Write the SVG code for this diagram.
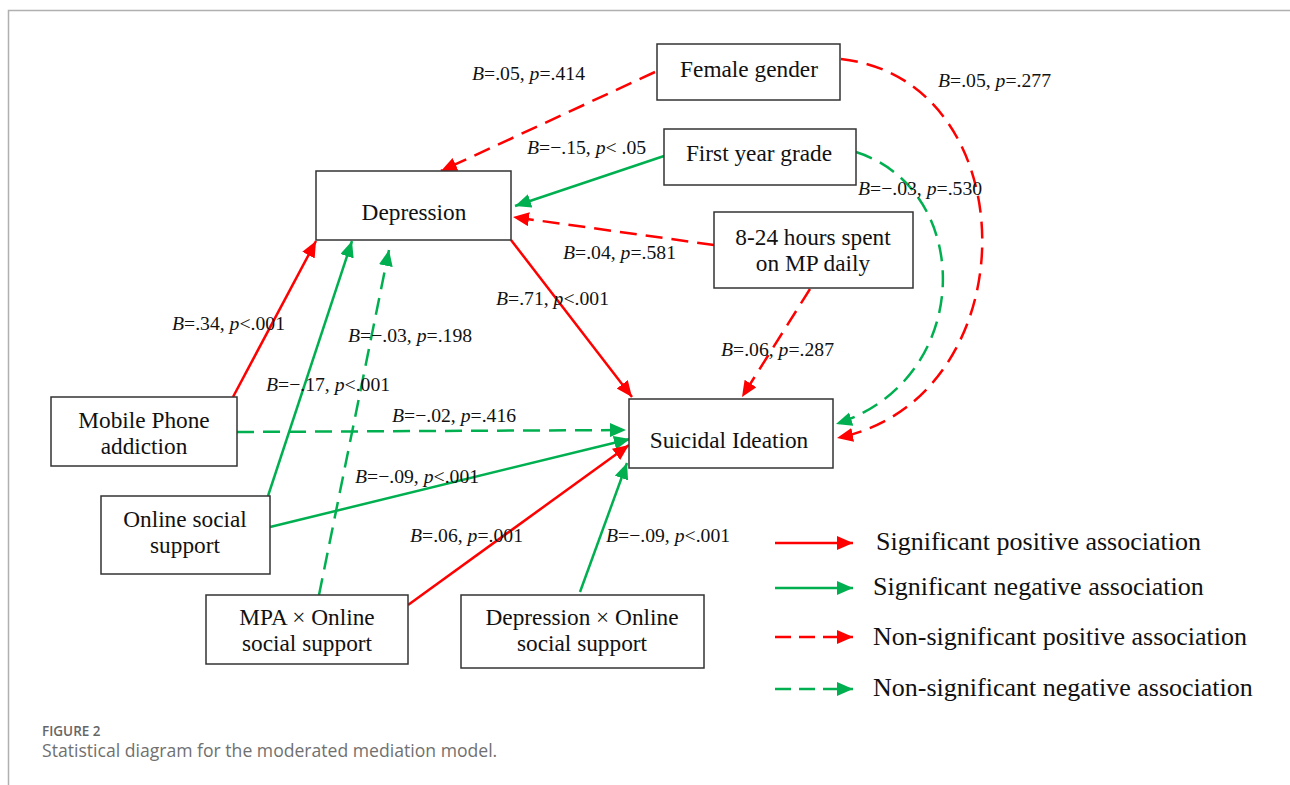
<svg xmlns="http://www.w3.org/2000/svg" width="1290" height="785" viewBox="0 0 1290 785">
<style>
.box{fill:#fff;stroke:#333;stroke-width:1.5}
.nt{font-family:"Liberation Serif","Times New Roman",serif;font-size:23.3px;fill:#111;text-anchor:middle}
.lb{font-family:"Liberation Serif","Times New Roman",serif;font-size:19.7px;fill:#111}
.i{font-style:italic}
.lg{font-family:"Liberation Serif","Times New Roman",serif;font-size:26px;fill:#111}
.r{stroke:#ff0000;stroke-width:2.5;fill:none}
.g{stroke:#00b050;stroke-width:2.5;fill:none}
.d{stroke-dasharray:17 9}
.ra{marker-end:url(#ar)}
.ga{marker-end:url(#ag)}
.cap1{font-family:"Open Sans","Noto Sans",sans-serif;font-size:13.5px;font-weight:600;fill:#666}
.cap2{font-family:"Open Sans","Noto Sans",sans-serif;font-size:17.6px;fill:#707070}
</style>
<defs>
<marker id="ar" markerUnits="userSpaceOnUse" markerWidth="17" markerHeight="15" refX="16" refY="7" orient="auto"><path d="M0,0 L16,7 L0,14 z" fill="#ff0000"/></marker>
<marker id="ag" markerUnits="userSpaceOnUse" markerWidth="17" markerHeight="15" refX="16" refY="7" orient="auto"><path d="M0,0 L16,7 L0,14 z" fill="#00b050"/></marker>
</defs>
<rect width="1290" height="785" fill="#fff"/>
<path d="M8.5,785 V10.5 H1290" fill="none" stroke="#b0b0b0" stroke-width="1.5"/>

<g id="connectors">
<path class="r d ra" d="M655,72 L441,171"/>
<path class="g ga" d="M664,156 L515,206"/>
<path class="r d ra" d="M714,245 L513,217"/>
<path class="r ra" d="M511,240 L632,397"/>
<path class="r ra" d="M233,397 L316,241"/>
<path class="g ga" d="M268,496 L352,241"/>
<path class="g d ga" d="M319,595 L389,250"/>
<path class="r d ra" d="M810,289 L742,397"/>
<path class="g d ga" d="M856,152 C975,190 975,380 836,424"/>
<path class="r d ra" d="M841,59 C1030,80 1030,400 837,438"/>
<path class="g d ga" d="M237,432 L626,430"/>
<path class="g ga" d="M270,527 L630,439"/>
<path class="r ra" d="M408,605 L629,445"/>
<path class="g ga" d="M580,592 L627,463"/>
</g>

<g id="female-gender"><rect class="box" x="657" y="44" width="183" height="56"/><text class="nt" x="749" y="77">Female gender</text></g>
<g id="first-year-grade"><rect class="box" x="664" y="129" width="192" height="56"/><text class="nt" x="759" y="161">First year grade</text></g>
<g id="hours-mp"><rect class="box" x="714" y="212" width="199" height="76"/><text class="nt" x="813" y="245">8-24 hours spent</text><text class="nt" x="813" y="271">on MP daily</text></g>
<g id="depression"><rect class="box" x="316" y="171" width="195" height="69"/><text class="nt" x="414" y="220">Depression</text></g>
<g id="mpa"><rect class="box" x="51" y="397" width="186" height="69"/><text class="nt" x="144" y="428">Mobile Phone</text><text class="nt" x="144" y="454">addiction</text></g>
<g id="oss"><rect class="box" x="101" y="496" width="169" height="78"/><text class="nt" x="185" y="527">Online social</text><text class="nt" x="185" y="553">support</text></g>
<g id="mpa-oss"><rect class="box" x="206" y="595" width="202" height="69"/><text class="nt" x="307" y="625">MPA × Online</text><text class="nt" x="307" y="651">social support</text></g>
<g id="dep-oss"><rect class="box" x="461" y="595" width="243" height="73"/><text class="nt" x="582" y="625">Depression × Online</text><text class="nt" x="582" y="651">social support</text></g>
<g id="suicidal-ideation"><rect class="box" x="629" y="399" width="204" height="69"/><text class="nt" x="729" y="448">Suicidal Ideation</text></g>

<g id="labels">
<text class="lb" x="472" y="80"><tspan class="i">B</tspan>=.05, <tspan class="i">p</tspan>=.414</text>
<text class="lb" x="527" y="154"><tspan class="i">B</tspan>=−.15, <tspan class="i">p</tspan>&lt; .05</text>
<text class="lb" x="938" y="87"><tspan class="i">B</tspan>=.05, <tspan class="i">p</tspan>=.277</text>
<text class="lb" x="858" y="195"><tspan class="i">B</tspan>=−.03, <tspan class="i">p</tspan>=.530</text>
<text class="lb" x="563" y="259"><tspan class="i">B</tspan>=.04, <tspan class="i">p</tspan>=.581</text>
<text class="lb" x="496" y="305"><tspan class="i">B</tspan>=.71, <tspan class="i">p</tspan>&lt;.001</text>
<text class="lb" x="172" y="330"><tspan class="i">B</tspan>=.34, <tspan class="i">p</tspan>&lt;.001</text>
<text class="lb" x="348" y="342"><tspan class="i">B</tspan>=−.03, <tspan class="i">p</tspan>=.198</text>
<text class="lb" x="266" y="391"><tspan class="i">B</tspan>=−.17, <tspan class="i">p</tspan>&lt;.001</text>
<text class="lb" x="392" y="422"><tspan class="i">B</tspan>=−.02, <tspan class="i">p</tspan>=.416</text>
<text class="lb" x="355" y="483"><tspan class="i">B</tspan>=−.09, <tspan class="i">p</tspan>&lt;.001</text>
<text class="lb" x="410" y="542"><tspan class="i">B</tspan>=.06, <tspan class="i">p</tspan>=.001</text>
<text class="lb" x="606" y="542"><tspan class="i">B</tspan>=−.09, <tspan class="i">p</tspan>&lt;.001</text>
<text class="lb" x="721" y="356"><tspan class="i">B</tspan>=.06, <tspan class="i">p</tspan>=.287</text>
</g>

<g id="legend">
<path class="r ra" d="M775,543 L853,543"/>
<text class="lg" x="876" y="550">Significant positive association</text>
<path class="g ga" d="M775,588 L853,588"/>
<text class="lg" x="873" y="595">Significant negative association</text>
<path class="r ra" d="M775,637 L853,637" stroke-dasharray="16 8"/>
<text class="lg" x="873" y="645">Non-significant positive association</text>
<path class="g ga" d="M775,689 L853,689" stroke-dasharray="16 8"/>
<text class="lg" x="873" y="696">Non-significant negative association</text>
</g>

<text class="cap1" x="42" y="736">FIGURE 2</text>
<text class="cap2" x="42" y="757">Statistical diagram for the moderated mediation model.</text>
</svg>
